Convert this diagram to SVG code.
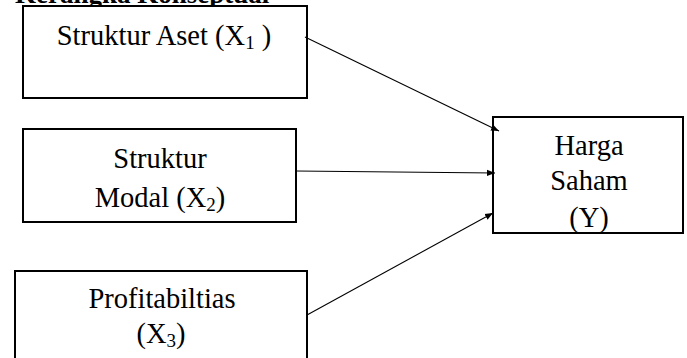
<svg xmlns="http://www.w3.org/2000/svg" width="687" height="358" viewBox="0 0 687 358">
<defs>
<style>
.box{fill:#fff;stroke:#000;stroke-width:2}
.t{font-family:"Liberation Serif","Times New Roman",serif;font-size:28.5px;fill:#000;text-anchor:middle}
.sub{font-size:19px}
.conn{stroke:#000;stroke-width:1.1;fill:none;marker-end:url(#ah)}
</style>
<marker id="ah" viewBox="0 0 10 10" refX="10" refY="5" markerWidth="8" markerHeight="8" markerUnits="userSpaceOnUse" orient="auto">
<path d="M0,1 L10,5 L0,9 z" fill="#000"/>
</marker>
</defs>
<rect width="687" height="358" fill="#fff"/>
<text x="15" y="3" font-family="Liberation Serif,serif" font-weight="bold" font-size="27" fill="#000">Kerangka Konseptual</text>
<g id="x1">
<rect class="box" x="23" y="6" width="284" height="92"/>
<text class="t" x="164" y="45">Struktur Aset (X<tspan class="sub" dy="4">1</tspan><tspan dy="-4"> )</tspan></text>
</g>
<g id="x2">
<rect class="box" x="23" y="129" width="273" height="93"/>
<text class="t" x="160" y="168">Struktur</text>
<text class="t" x="160" y="207">Modal (X<tspan class="sub" dy="4">2</tspan><tspan dy="-4">)</tspan></text>
</g>
<g id="x3">
<rect class="box" x="15" y="271" width="292" height="100"/>
<text class="t" x="162" y="308">Profitabiltias</text>
<text class="t" x="161" y="343">(X<tspan class="sub" dy="4">3</tspan><tspan dy="-4">)</tspan></text>
</g>
<g id="y">
<rect class="box" x="493" y="117" width="190" height="116"/>
<text class="t" x="589" y="155">Harga</text>
<text class="t" x="589" y="190">Saham</text>
<text class="t" x="589" y="227">(Y)</text>
</g>
<g id="connectors">
<line class="conn" x1="305" y1="37" x2="499" y2="131"/>
<line class="conn" x1="296" y1="171" x2="495" y2="173"/>
<line class="conn" x1="307" y1="315" x2="493" y2="213"/>
</g>
</svg>
